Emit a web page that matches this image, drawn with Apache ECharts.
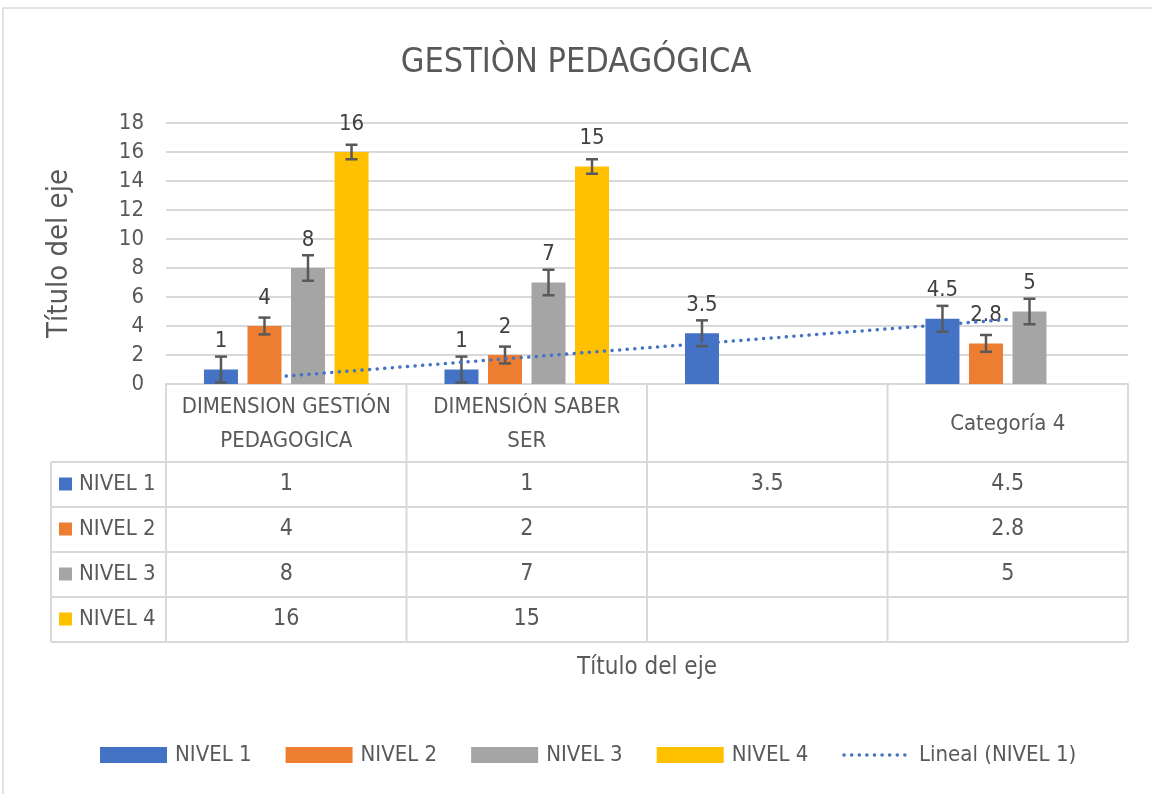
<!DOCTYPE html>
<html>
<head>
<meta charset="utf-8">
<script src="https://cdn.jsdelivr.net/npm/echarts@6/dist/echarts.min.js"></script>
<style>
html, body { margin: 0; padding: 0; background: #fff; }
#chart { width: 1152px; height: 794px; }
</style>
</head>
<body>
<div id="chart"></div>
<script>
const categories = ['DIMENSION GESTIÓN\nPEDAGOGICA', 'DIMENSIÓN SABER\nSER', '', 'Categoría 4']
const seriesNames = ['NIVEL 1', 'NIVEL 2', 'NIVEL 3', 'NIVEL 4']
const nivel1 = [1, 1, 3.5, 4.5]
const nivel2 = [4, 2, null, 2.8]
const nivel3 = [8, 7, null, 5]
const nivel4 = [16, 15, null, null]
const errorAmounts = [0.89, 0.58, 0.88, 0.5]   // standard error, one per series
const lineal1 = [0.55, 1.85, 3.15, 4.45]        // NIVEL 1 linear trend, read at category centers
const trendName = 'Lineal (NIVEL 1)'

const levels = [nivel1, nivel2, nivel3, nivel4]
const colors = ['#4472C4', '#ED7D31', '#A5A5A5', '#FFC000']
const FONT = "'Liberation Sans Narrow', 'DejaVu Sans Condensed', 'Open Sans', sans-serif"
const TEXT = '#595959'
const LINE = '#D9D9D9'
const BAR_W = 34
const BAR_GAP = 0.28
const trendStyle = { color: '#4472C4', width: 3.5, type: [0.1, 7.5], cap: 'round' }

// error bars: [category, value, amount, series]
const errorData = []
levels.forEach((vals, s) => {
  vals.forEach((v, c) => {
    if (v != null) errorData.push([c, v, errorAmounts[s], s])
  })
})

function renderErrorBar(params, api) {
  const c = api.value(0), v = api.value(1), e = api.value(2), s = api.value(3)
  const center = api.coord([c, v])[0]
  const total = BAR_W * 4 + BAR_W * BAR_GAP * 3
  const x = center - total / 2 + s * BAR_W * (1 + BAR_GAP) + BAR_W / 2
  const yTop = api.coord([c, v + e])[1]
  const yBot = api.coord([c, v - e])[1]
  const cap = 6
  const style = { stroke: '#595959', lineWidth: 2.5 }
  return {
    type: 'group',
    children: [
      { type: 'line', shape: { x1: x, y1: yTop, x2: x, y2: yBot }, style },
      { type: 'line', shape: { x1: x - cap, y1: yTop, x2: x + cap, y2: yTop }, style },
      { type: 'line', shape: { x1: x - cap, y1: yBot, x2: x + cap, y2: yBot }, style }
    ]
  }
}

const barSeries = levels.map((vals, s) => ({
  name: seriesNames[s],
  type: 'bar',
  data: vals,
  barWidth: BAR_W,
  barGap: (BAR_GAP * 100) + '%',
  itemStyle: { color: colors[s] },
  label: {
    show: true,
    position: 'top',
    distance: 17,
    fontFamily: FONT,
    fontSize: 22,
    color: '#404040'
  },
  z: 2
}))

const option = {
  animation: false,
  backgroundColor: '#fff',
  textStyle: { fontFamily: FONT },
  title: {
    text: 'GESTIÒN PEDAGÓGICA',
    left: 'center',
    top: 41,
    textStyle: { fontFamily: FONT, fontSize: 34, fontWeight: 'normal', color: TEXT }
  },
  legend: {
    data: [
      ...seriesNames.map(n => ({ name: n, icon: 'rect' })),
      { name: trendName, itemStyle: { color: 'rgba(0,0,0,0)', borderWidth: 0 }, lineStyle: trendStyle }
    ],
    left: 95,
    top: 739,
    itemWidth: 67,
    itemHeight: 16,
    itemGap: 34,
    textStyle: { fontFamily: FONT, fontSize: 22, color: TEXT, padding: [0, 0, 0, 3] }
  },
  grid: { left: 166, right: 24, top: 123, bottom: 410 },
  xAxis: {
    type: 'category',
    data: categories,
    axisTick: { show: false },
    axisLine: { lineStyle: { color: LINE, width: 2 } },
    axisLabel: {
      interval: 0,
      margin: 40,
      verticalAlign: 'middle',
      lineHeight: 34,
      fontFamily: FONT,
      fontSize: 22,
      color: TEXT
    },
    name: 'Título del eje',
    nameLocation: 'middle',
    nameGap: 284,
    nameTextStyle: { fontFamily: FONT, fontSize: 24, color: TEXT, verticalAlign: 'middle' }
  },
  yAxis: {
    type: 'value',
    min: 0,
    max: 18,
    interval: 2,
    axisLine: { show: false },
    axisTick: { show: false },
    splitLine: { lineStyle: { color: LINE, width: 2 } },
    axisLabel: { margin: 22, fontFamily: FONT, fontSize: 22, color: TEXT },
    name: 'Título del eje',
    nameLocation: 'middle',
    nameRotate: 90,
    nameGap: 92,
    nameTextStyle: { fontFamily: FONT, fontSize: 29, color: TEXT }
  },
  series: [
    ...barSeries,
    {
      name: 'errores',
      type: 'custom',
      renderItem: renderErrorBar,
      data: errorData,
      encode: { x: 0, y: 1 },
      z: 3
    },
    {
      name: trendName,
      type: 'line',
      data: lineal1,
      symbol: 'none',
      lineStyle: trendStyle,
      itemStyle: { color: '#4472C4' },
      z: 4
    }
  ]
}

const chart = echarts.init(document.getElementById('chart'))
chart.setOption(option)

// data table under the plot, laid out on the category axis
const centers = categories.map((_, i) => chart.convertToPixel({ xAxisIndex: 0 }, i))
const half = (centers[1] - centers[0]) / 2
const axisY = chart.convertToPixel({ yAxisIndex: 0 }, 0)
const headerBottom = axisY + 78
const ROW_H = 45
const TABLE_LEFT = 51
const tableRight = centers[centers.length - 1] + half
const tableBottom = headerBottom + ROW_H * levels.length

const graphics = []
const lineStyle = { stroke: LINE, lineWidth: 2 }

for (let k = 0; k <= levels.length; k++) {
  const y = headerBottom + k * ROW_H
  graphics.push({ type: 'line', shape: { x1: TABLE_LEFT, y1: y, x2: tableRight, y2: y }, style: lineStyle })
}
centers.forEach(c => {
  graphics.push({ type: 'line', shape: { x1: c - half, y1: axisY, x2: c - half, y2: tableBottom }, style: lineStyle })
})
graphics.push({ type: 'line', shape: { x1: tableRight, y1: axisY, x2: tableRight, y2: tableBottom }, style: lineStyle })
graphics.push({ type: 'line', shape: { x1: TABLE_LEFT, y1: headerBottom, x2: TABLE_LEFT, y2: tableBottom }, style: lineStyle })

levels.forEach((vals, s) => {
  const cy = headerBottom + s * ROW_H + ROW_H / 2
  graphics.push({
    type: 'rect',
    shape: { x: 59, y: cy - 7, width: 13, height: 13 },
    style: { fill: colors[s] }
  })
  graphics.push({
    type: 'text',
    x: 79,
    y: cy,
    style: { text: seriesNames[s], fontFamily: FONT, fontSize: 22, fill: TEXT, verticalAlign: 'middle' }
  })
  vals.forEach((v, c) => {
    if (v == null) return
    graphics.push({
      type: 'text',
      x: centers[c],
      y: cy,
      style: { text: String(v), fontFamily: FONT, fontSize: 23, fill: TEXT, align: 'center', verticalAlign: 'middle' }
    })
  })
})

// chart frame
graphics.push({
  type: 'rect',
  shape: { x: 3, y: 8, width: 1180, height: 820 },
  style: { fill: 'none', stroke: LINE, lineWidth: 1.5 },
  silent: true
})

chart.setOption({ graphic: graphics })
</script>
</body>
</html>
